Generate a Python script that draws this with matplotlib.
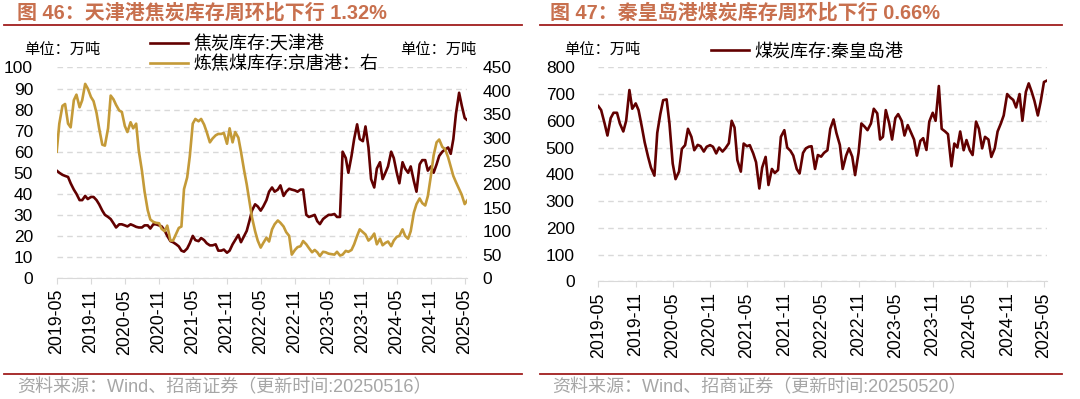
import pandas as pd
import matplotlib.pyplot as plt
from matplotlib.lines import Line2D

plt.rcParams['font.family'] = ['Liberation Sans', 'Noto Sans CJK SC']

# semi-monthly readings, 2019-05-01 .. 2025-05-15
dates = pd.date_range('2019-05-01', '2025-05-15', freq='SMS')

# 焦炭库存:天津港 (万吨, left axis)
coke_tianjin = [
    51, 50, 49, 48.5, 48, 45, 42, 40, 37, 37,
    39, 37.5, 38.5, 38.5, 37, 35, 32, 30, 29, 28,
    26, 24, 25.5, 25.5, 25, 24.5, 25.5, 25, 24.3, 24,
    24, 25, 25, 23.5, 25.5, 25.5, 25, 24.5, 22.5, 20,
    17.5, 17, 16, 15, 13, 12.5, 14, 16.5, 20, 18,
    17.5, 19, 18, 16.5, 15.5, 15.5, 16, 13, 13, 13.5,
    12, 13, 16, 18, 20.5, 17, 20, 22.4, 27, 32,
    35, 34, 32, 34, 37, 41, 43, 41, 42, 44,
    39, 41, 42.4, 42, 41.6, 41, 42, 42, 30, 29,
    29.5, 30, 27, 25.6, 28, 29, 30, 30, 30.4, 29,
    29, 60, 57, 50, 58, 66, 73, 66, 65, 72,
    62, 47, 43, 52, 55, 47, 50, 53, 60, 57,
    50, 45, 55, 52, 50, 53, 46, 41, 54, 56,
    56, 51, 53, 50, 54, 58, 60, 61, 62, 59,
    66, 78, 88, 82, 76, 75,
]

# 炼焦煤库存:京唐港 (万吨, right axis)
coal_jingtang = [
    270, 330, 368, 372, 330, 322, 380, 392, 365, 380,
    415, 405, 387, 378, 353, 320, 285, 283, 320, 390,
    382, 370, 358, 355, 325, 312, 333, 320, 330, 272,
    229, 185, 145, 125, 120, 118, 117, 105, 100, 112,
    80, 80, 95, 107, 110, 190, 215, 260, 330, 340,
    335, 340, 328, 312, 290, 298, 305, 308, 308, 310,
    287, 320, 290, 312, 300, 270, 230, 200, 165, 130,
    100, 80, 65, 75, 86, 78, 104, 115, 123, 118,
    110, 98, 90, 50, 60, 66, 68, 79, 72, 64,
    55, 60, 55, 47, 56, 55, 52, 51, 50, 56,
    48, 50, 58, 56, 60, 72, 90, 104, 98, 93,
    80, 85, 95, 72, 84, 70, 75, 78, 68, 80,
    88, 90, 104, 90, 84, 100, 140, 158, 170, 160,
    155, 175, 220, 262, 290, 296, 280, 276, 258, 238,
    218, 205, 190, 178, 158, 166,
]

# 煤炭库存:秦皇岛港 (万吨)
coal_qhd = [
    655, 640, 590, 545, 610, 630, 630, 590, 560, 600,
    715, 645, 665, 640, 578, 520, 465, 425, 395, 555,
    625, 677, 680, 590, 440, 382, 410, 495, 509, 570,
    540, 490, 510, 505, 485, 503, 509, 503, 478, 500,
    485, 497, 516, 600, 575, 453, 410, 515, 505, 509,
    478, 445, 347, 425, 465, 360, 420, 405, 416, 540,
    565, 500, 488, 470, 420, 403, 480, 497, 503, 505,
    420, 472, 466, 480, 490, 570, 605, 555, 510, 420,
    470, 497, 466, 397, 480, 590, 578, 565, 590, 645,
    628, 530, 540, 640, 590, 530, 610, 625, 600, 545,
    584, 560, 530, 470, 525, 535, 491, 597, 630, 600,
    730, 570, 560, 550, 430, 515, 500, 560, 490, 528,
    490, 472, 597, 570, 497, 540, 530, 465, 497, 560,
    590, 620, 700, 688, 678, 650, 700, 600, 708, 740,
    710, 675, 620, 672, 745, 750,
]

tick_dates = pd.date_range('2019-05-01', '2025-05-01', freq='6MS')
tick_labels = [d.strftime('%Y-%m') for d in tick_dates]

DARK = '#620000'
GOLD = '#C49A38'
TITLE = '#C8704E'
RULE = '#A01E1E'
GRID = '#D9D9D9'
FOOT = '#A6A6A6'

W, H = 1080, 399
fig = plt.figure(figsize=(W / 100, H / 100), dpi=100)


def px(x, y):
    return x / W, 1 - y / H


def base_axis(ax, ymax, ystep):
    ax.set_xlim(dates[0], dates[-1])
    ax.set_ylim(0, ymax)
    ax.set_yticks(range(0, ymax + 1, ystep))
    ax.set_xticks(tick_dates)
    ax.set_xticklabels(tick_labels, rotation=90)
    for s in ['left', 'right', 'top']:
        ax.spines[s].set_visible(False)
    ax.spines['bottom'].set_color(GRID)
    ax.yaxis.grid(True, linestyle=(0, (4, 3)), color=GRID, lw=1)
    ax.set_axisbelow(True)
    ax.tick_params(axis='y', length=0, pad=17, labelsize=12.5)
    ax.tick_params(axis='x', length=4, color=GRID, pad=4, labelsize=12.8)


# ---- left: 天津港焦炭 + 京唐港炼焦煤
ax1 = fig.add_axes([56.7 / W, 1 - 278 / H, 410.6 / W, 210.5 / H])
base_axis(ax1, 100, 10)
l1, = ax1.plot(dates, coke_tianjin, color=DARK, lw=1.9)
ax1b = ax1.twinx()
ax1b.set_ylim(0, 450)
ax1b.set_yticks(range(0, 451, 50))
for s in ax1b.spines.values():
    s.set_visible(False)
ax1b.tick_params(axis='y', length=0, pad=11, labelsize=12.5)
l2, = ax1b.plot(dates, coal_jingtang, color=GOLD, lw=1.9)

fig.legend([l1, l2], ['焦炭库存:天津港', '炼焦煤库存:京唐港：右'],
           loc='upper left', bbox_to_anchor=px(150, 36), frameon=False,
           fontsize=13, handlelength=2.1, handletextpad=0.3,
           labelspacing=0.15, borderpad=0, borderaxespad=0)

# ---- right: 秦皇岛港煤炭
ax2 = fig.add_axes([598.3 / W, 1 - 281.3 / H, 448.5 / W, 214 / H])
base_axis(ax2, 800, 100)
l3, = ax2.plot(dates, coal_qhd, color=DARK, lw=1.9)
fig.legend([l3], ['煤炭库存:秦皇岛港'],
           loc='upper left', bbox_to_anchor=px(711, 43), frameon=False,
           fontsize=13, handlelength=2.1, handletextpad=0.3,
           borderpad=0, borderaxespad=0)

# ---- titles, units, rules, sources
fig.text(*px(17, 13), '图 46：天津港焦炭库存周环比下行 1.32%', color=TITLE,
         fontsize=14.4, fontweight='bold', va='center')
fig.text(*px(550, 13), '图 47：秦皇岛港煤炭库存周环比下行 0.66%', color=TITLE,
         fontsize=14.4, fontweight='bold', va='center')

for x in (24, 400, 564):
    fig.text(*px(x, 50), '单位：万吨', fontsize=11, va='center')

for x0, x1 in ((4, 522), (540, 1062)):
    for y in (25, 373.5):
        fig.add_artist(Line2D([x0 / W, x1 / W], [1 - y / H, 1 - y / H],
                              color=RULE, lw=1.3, transform=fig.transFigure))

fig.text(*px(17, 388), '资料来源：Wind、招商证券（更新时间:20250516）',
         color=FOOT, fontsize=13, va='center')
fig.text(*px(552, 388), '资料来源：Wind、招商证券（更新时间:20250520）',
         color=FOOT, fontsize=13, va='center')

fig.savefig('out.png', dpi=100)
